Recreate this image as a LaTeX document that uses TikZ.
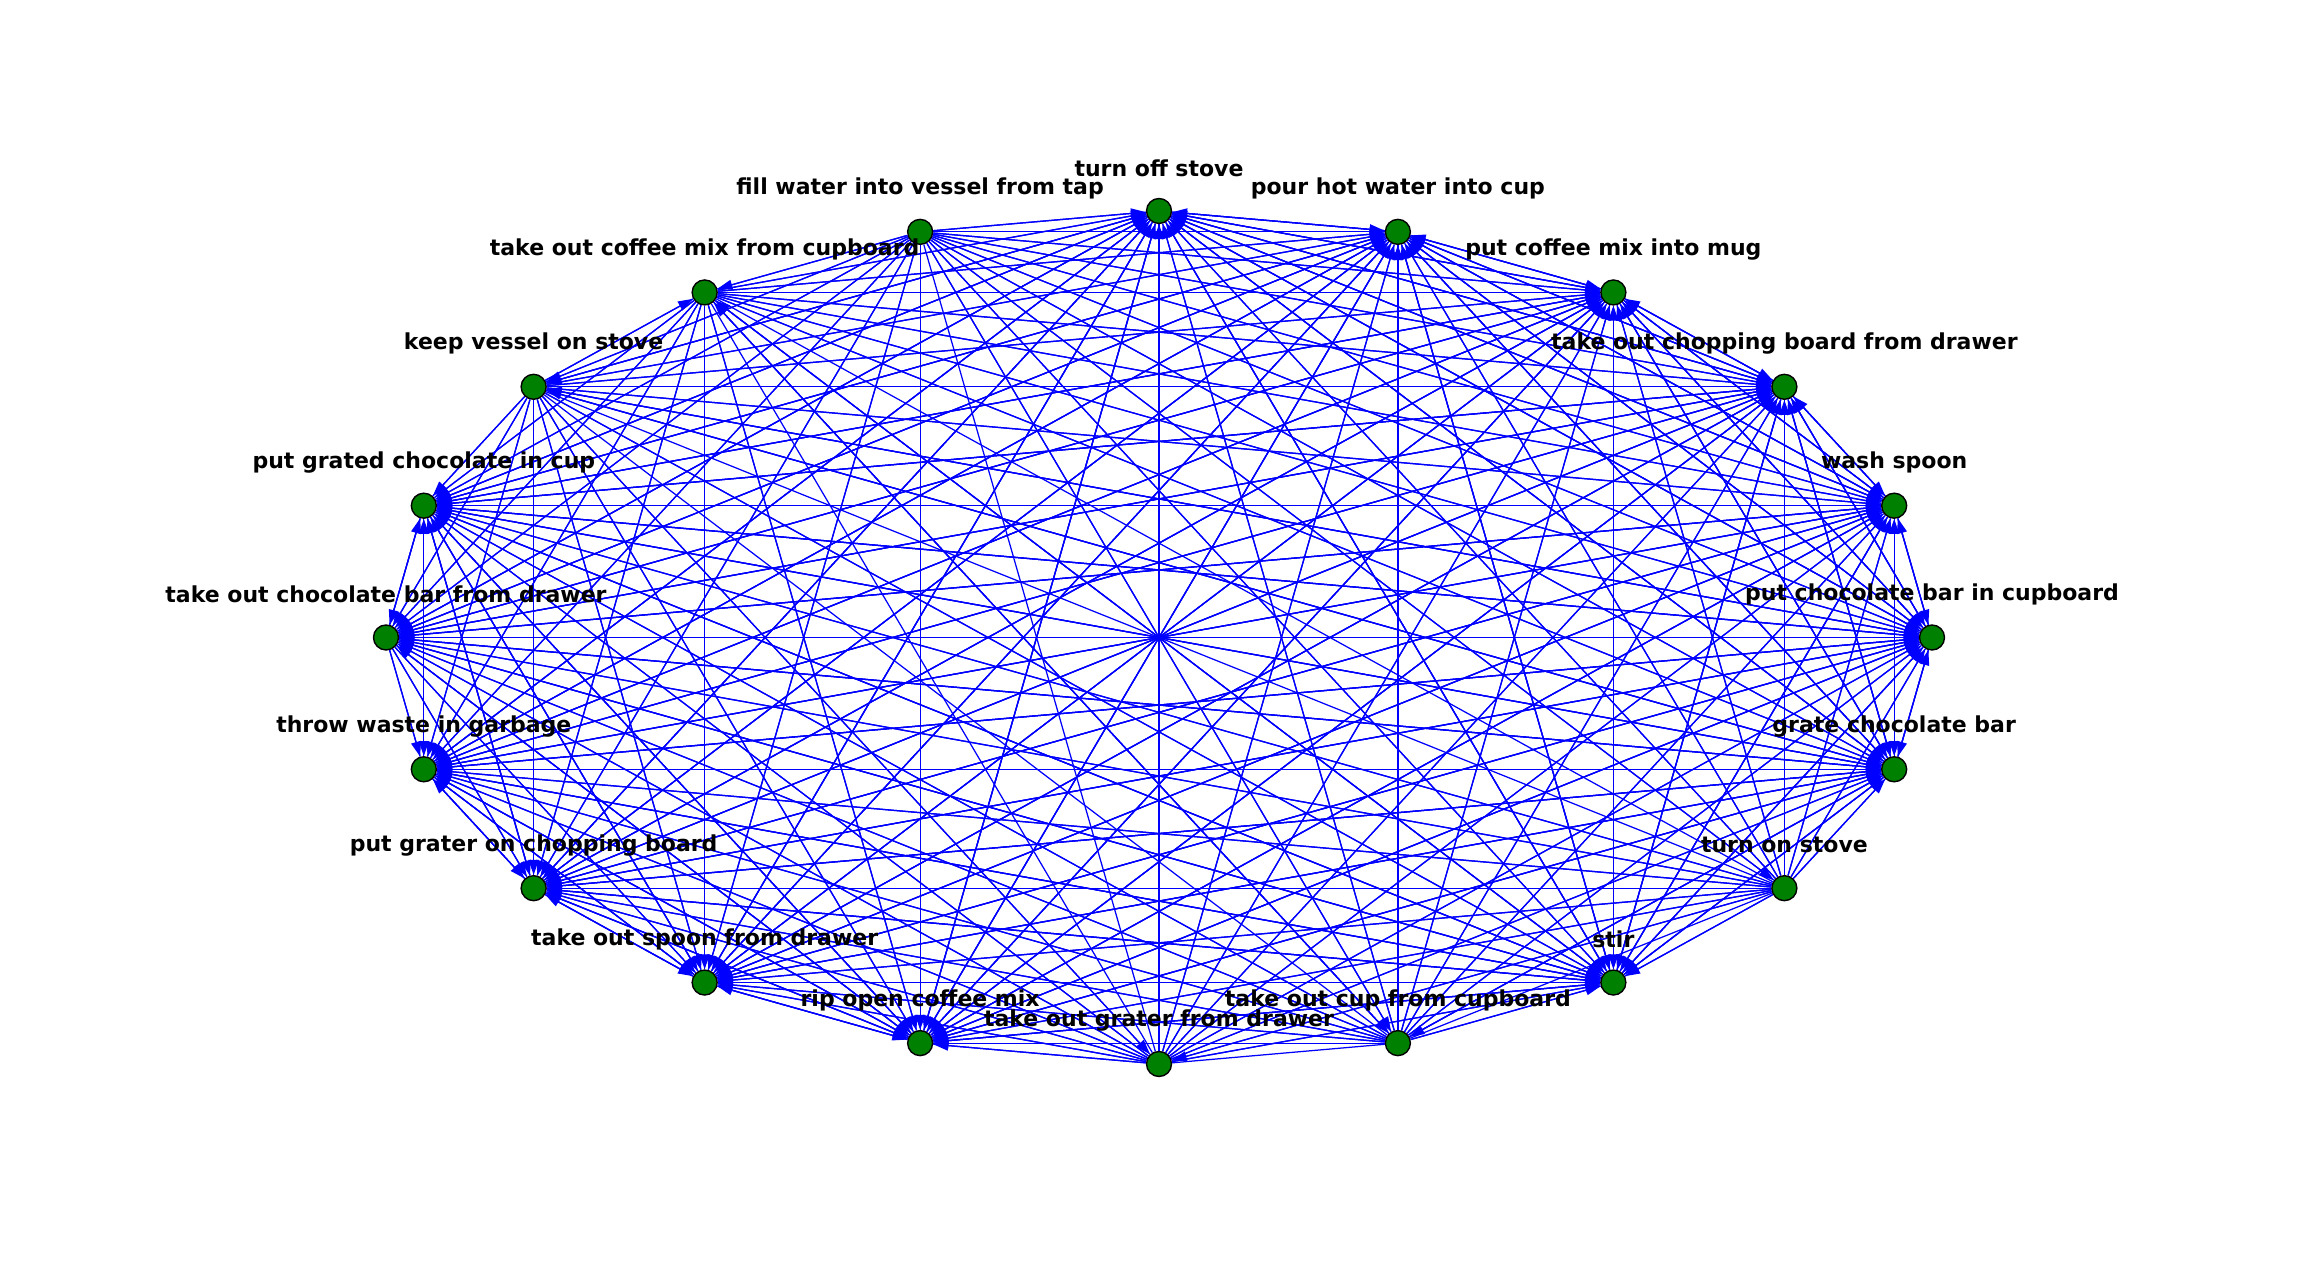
\documentclass[tikz,border=0pt]{standalone}
\usepackage{fontspec}
\setmainfont{DejaVu Sans}
\usetikzlibrary{arrows.meta}
\pgfdeclarelayer{bg}
\pgfsetlayers{bg,main}
\definecolor{nodegreen}{RGB}{0,128,0}
\begin{document}
\begin{tikzpicture}[x=1pt,y=1pt,
  vert/.style={circle,fill=nodegreen,draw=black,line width=1.4pt,minimum size=25pt,inner sep=0pt},
  edge/.style={draw=blue,line width=1.25pt},
  arr/.style={edge,-{Triangle[length=15pt,width=10pt]}},
  lab/.style={font=\fontsize{22}{26}\selectfont\bfseries,inner sep=0pt}]
\useasboundingbox (0,0) rectangle (2318,1277);
\foreach \k/\t in {0/put chocolate bar in cupboard,1/wash spoon,2/take out chopping board from drawer,3/put coffee mix into mug,4/pour hot water into cup,5/turn off stove,6/fill water into vessel from tap,7/take out coffee mix from cupboard,8/keep vessel on stove,9/put grated chocolate in cup,10/take out chocolate bar from drawer,11/throw waste in garbage,12/put grater on chopping board,13/take out spoon from drawer,14/rip open coffee mix,15/take out grater from drawer,16/take out cup from cupboard,17/stir,18/turn on stove,19/grate chocolate bar}{
  \node[vert] (n\k) at ({1159+773*cos(18*\k)},{639.5+426.5*sin(18*\k)}) {};
}
\begin{pgfonlayer}{bg}
\foreach \i in {0,...,19}{\foreach \j in {0,...,19}{\ifnum\i<\j \draw[edge] (n\i) -- (n\j);\fi}}
\foreach \j in {0,1,2,3,4,5,9,12,13,14,17,19,11}{\foreach \i in {0,...,19}{\ifnum\i=\j\else \draw[arr] (n\i) -- (n\j);\fi}}
\foreach \i in {0,1,2,3,4,5,6,7,8,9,14,15,16,17,18,19}{\draw[arr] (n\i) -- (n10);}
\foreach \i/\j in {6/7,8/7,17/7,16/7,6/8,5/8,0/8,19/8,6/18,8/15,18/15,6/16,7/16,19/16}{\draw[arr] (n\i) -- (n\j);}
\end{pgfonlayer}
\foreach \k/\t in {0/put chocolate bar in cupboard,1/wash spoon,2/take out chopping board from drawer,3/put coffee mix into mug,4/pour hot water into cup,5/turn off stove,6/fill water into vessel from tap,7/take out coffee mix from cupboard,8/keep vessel on stove,9/put grated chocolate in cup,10/take out chocolate bar from drawer,11/throw waste in garbage,12/put grater on chopping board,13/take out spoon from drawer,14/rip open coffee mix,15/take out grater from drawer,16/take out cup from cupboard,17/stir,18/turn on stove,19/grate chocolate bar}{
  \node[lab] (l\k) at ({1159+773*cos(18*\k)},{639.5+426.5*sin(18*\k)+43}) {\t};
}
\end{tikzpicture}
\end{document}
